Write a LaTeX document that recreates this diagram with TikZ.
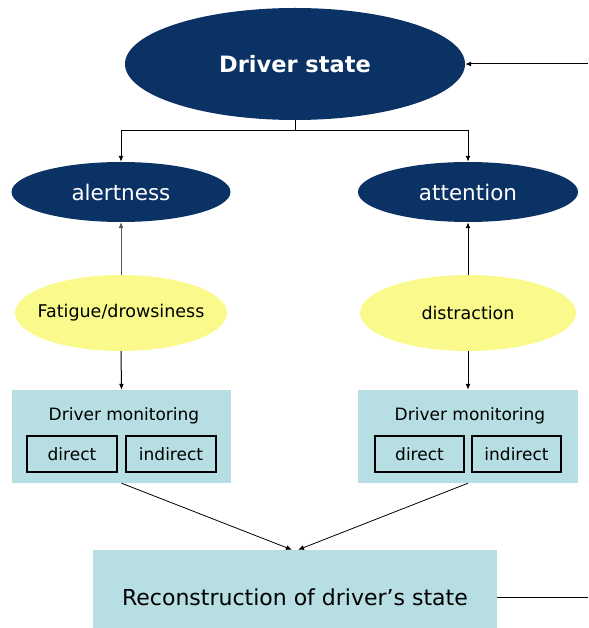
\documentclass[tikz,border=0pt]{standalone}
\usepackage{fontspec}
\setmainfont{DejaVu Sans}
\usetikzlibrary{shapes.geometric,arrows.meta}
\definecolor{navy}{RGB}{10,50,100}
\definecolor{lyellow}{RGB}{250,250,140}
\definecolor{lblue}{RGB}{183,222,226}
\begin{document}
\begin{tikzpicture}[x=1pt,y=-1pt,
  navyell/.style={ellipse, fill=navy, text=white, inner sep=0pt},
  yell/.style={ellipse, fill=lyellow, inner sep=0pt, minimum width=212pt, minimum height=76pt},
  yelltext/.style={font=\fontsize{17.5}{20}\selectfont, text=black, inner sep=0pt},
  monbox/.style={rectangle, fill=lblue, inner sep=0pt, minimum width=219pt, minimum height=93pt},
  montext/.style={font=\fontsize{17}{20}\selectfont, inner sep=0pt},
  subbox/.style={rectangle, draw=black, line width=1.1pt, inner sep=0pt, minimum width=90pt, minimum height=36pt, font=\fontsize{17}{20}\selectfont},
  arr/.style={-{Latex[length=6pt,width=5pt]}, line width=1pt},
  plain/.style={line width=1pt}]
\useasboundingbox (0,0) rectangle (588,628);
% top
\node[navyell, minimum width=340pt, minimum height=112pt, font=\bfseries\fontsize{22.5}{26}\selectfont] (ds) at (295,64) {Driver state};
\node[navyell, minimum width=219pt, minimum height=60pt, font=\fontsize{21.5}{25}\selectfont] (al) at (121,192) {alertness};
\node[navyell, minimum width=220pt, minimum height=60pt, font=\fontsize{21.5}{25}\selectfont] (at) at (468,192) {attention};
\node[yell, label={[yelltext]center:Fatigue/drowsiness}] (fa) at (121,313) {};
\node[yell, minimum width=216pt, label={[yelltext]center:distraction}] (di) at (468,313) {};
% monitoring boxes
\node[monbox] (m1) at (121.5,436.5) {};
\node[monbox, minimum width=220pt] (m2) at (468,436.5) {};
\node[montext] (m1t) at (124,416) {Driver monitoring};
\node[montext] (m2t) at (470,416) {Driver monitoring};
\node[subbox] (d1) at (72,454) {direct};
\node[subbox] (i1) at (171,454) {indirect};
\node[subbox, minimum width=89pt] (d2) at (419.5,454) {direct};
\node[subbox, minimum width=89pt] (i2) at (516.5,454) {indirect};
% reconstruction
\node[rectangle, fill=lblue, minimum width=404pt, minimum height=94pt, inner sep=0pt, font=\fontsize{22}{26}\selectfont] (rc) at (295,597) {Reconstruction of driver's state};
% connectors
\coordinate (rin) at (588,64);
\coordinate (rout) at (588,597);
\draw[arr] (rin) -- (ds.east);
\draw[plain] (ds.south) -- ++(0,10) coordinate (j);
\draw[arr] (j) -| (al.north);
\draw[arr] (j) -| (at.north);
\draw[arr, draw=gray!70!black] (fa.north) -- (al.south);
\draw[arr] (di.north) -- (at.south);
\draw[arr] (fa.south) -- (m1.north);
\draw[arr] (di.south) -- (m2.north);
\draw[-{Latex[length=6pt,width=5pt]}, line width=0.8pt] (m1.south) -- ([xshift=-3pt]rc.north);
\draw[-{Latex[length=6pt,width=5pt]}, line width=0.8pt] (m2.south) -- ([xshift=3pt]rc.north);
\draw[plain] (rc.east) -- (rout);
\end{tikzpicture}
\end{document}
